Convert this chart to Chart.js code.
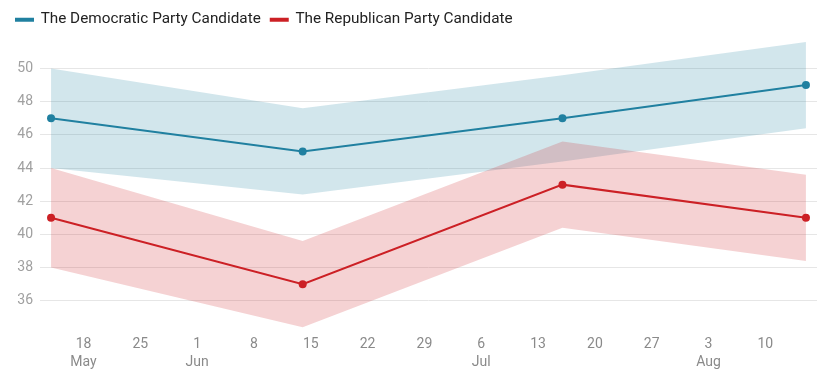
<!DOCTYPE html>
<html>
<head>
<meta charset="utf-8">
<script src="https://cdn.jsdelivr.net/npm/chart.js@4.4.1/dist/chart.umd.min.js"></script>
<style>
  html, body { margin: 0; padding: 0; background: #fff; }
  #wrap { width: 823px; height: 387px; }
</style>
</head>
<body>
<div id="wrap"><canvas id="pollChart"></canvas></div>
<script>
// poll dates and values
const pollDates = ['2020-05-14', '2020-06-14', '2020-07-16', '2020-08-15'];
const demValues = [47, 45, 47, 49];
const demLow    = [44, 42.4, 44.4, 46.4];
const demHigh   = [50, 47.6, 49.6, 51.6];
const repValues = [41, 37, 43, 41];
const repLow    = [38, 34.4, 40.4, 38.4];
const repHigh   = [44, 39.6, 45.6, 43.6];

const tickDates = ['2020-05-18', '2020-05-25', '2020-06-01', '2020-06-08', '2020-06-15',
                   '2020-06-22', '2020-06-29', '2020-07-06', '2020-07-13', '2020-07-20',
                   '2020-07-27', '2020-08-03', '2020-08-10'];
const yTicks = [36, 38, 40, 42, 44, 46, 48, 50];
const monthNames = ['Jan', 'Feb', 'Mar', 'Apr', 'May', 'Jun', 'Jul', 'Aug', 'Sep', 'Oct', 'Nov', 'Dec'];

const DAY = 86400000;
const toDay = s => Date.parse(s + 'T00:00:00Z') / DAY;
const xs = pollDates.map(toDay);
const pts = arr => arr.map((v, i) => ({ x: xs[i], y: v }));

const BLUE = '#2080a0';
const RED  = '#cc2025';

const tickDays = tickDates.map(toDay);
const firstOfMonth = {};
tickDates.forEach(d => {
    const m = d.slice(0, 7);
    if (!(m in firstOfMonth)) firstOfMonth[m] = toDay(d);
});

function tickLabel(value) {
    const d = new Date(value * DAY);
    const day = String(d.getUTCDate());
    const key = d.toISOString().slice(0, 7);
    if (firstOfMonth[key] === value) return [day, monthNames[d.getUTCMonth()]];
    return day;
}

const band = (data, color, fill, order) => ({
    data: data,
    borderWidth: 0,
    pointRadius: 0,
    pointHoverRadius: 0,
    backgroundColor: color,
    fill: fill,
    order: order,
    tension: 0
});

const line = (label, data, color, order) => ({
    label: label,
    data: data,
    borderColor: color,
    backgroundColor: color,
    borderWidth: 2,
    pointRadius: 4,
    pointBorderWidth: 0,
    pointBackgroundColor: color,
    fill: false,
    order: order
});

// nudge the legend a little to the right and down
const legendShift = {
    id: 'legendShift',
    afterLayout(chart) {
        chart.legend.left += 6;
        chart.legend.top += 2;
    }
};

new Chart(document.getElementById('pollChart').getContext('2d'), {
    type: 'line',
    data: {
        datasets: [
            line('The Democratic Party Candidate', pts(demValues), BLUE, 0),
            line('The Republican Party Candidate', pts(repValues), RED, 1),
            band(pts(repHigh), 'rgba(204,32,37,0.2)', '+1', 2),
            band(pts(repLow),  'rgba(0,0,0,0)', false, 2),
            band(pts(demHigh), 'rgba(32,128,160,0.2)', '+1', 3),
            band(pts(demLow),  'rgba(0,0,0,0)', false, 3)
        ]
    },
    options: {
        responsive: true,
        maintainAspectRatio: false,
        animation: false,
        layout: { padding: { left: 0, right: 6, top: 0, bottom: 0 } },
        scales: {
            x: {
                type: 'linear',
                min: xs[0] - 1.36,
                max: xs[xs.length - 1] + 1.36,
                grid: { display: false, drawTicks: false },
                border: { display: false },
                afterBuildTicks: axis => { axis.ticks = tickDays.map(v => ({ value: v })); },
                afterFit: axis => { axis.height = 53; },
                ticks: {
                    autoSkip: false,
                    maxRotation: 0,
                    padding: 1,
                    color: '#8a8a8a',
                    font: { family: 'Roboto', size: 14, lineHeight: 1.3 },
                    callback: tickLabel
                }
            },
            y: {
                min: 34,
                max: 52,
                grid: { color: '#e6e6e6', drawTicks: false },
                border: { display: false },
                afterBuildTicks: axis => { axis.ticks = yTicks.map(v => ({ value: v })); },
                afterFit: axis => { axis.width = 40; },
                ticks: {
                    padding: 7,
                    color: '#a0a0a0',
                    font: { family: 'Roboto', size: 14 }
                }
            }
        },
        plugins: {
            legend: {
                align: 'start',
                labels: {
                    filter: item => !!item.text,
                    boxWidth: 17,
                    boxHeight: 2,
                    padding: 10,
                    color: '#222',
                    font: { family: 'Roboto', size: 15.3 }
                }
            },
            tooltip: { enabled: false }
        }
    },
    plugins: [legendShift]
});
</script>
</body>
</html>
